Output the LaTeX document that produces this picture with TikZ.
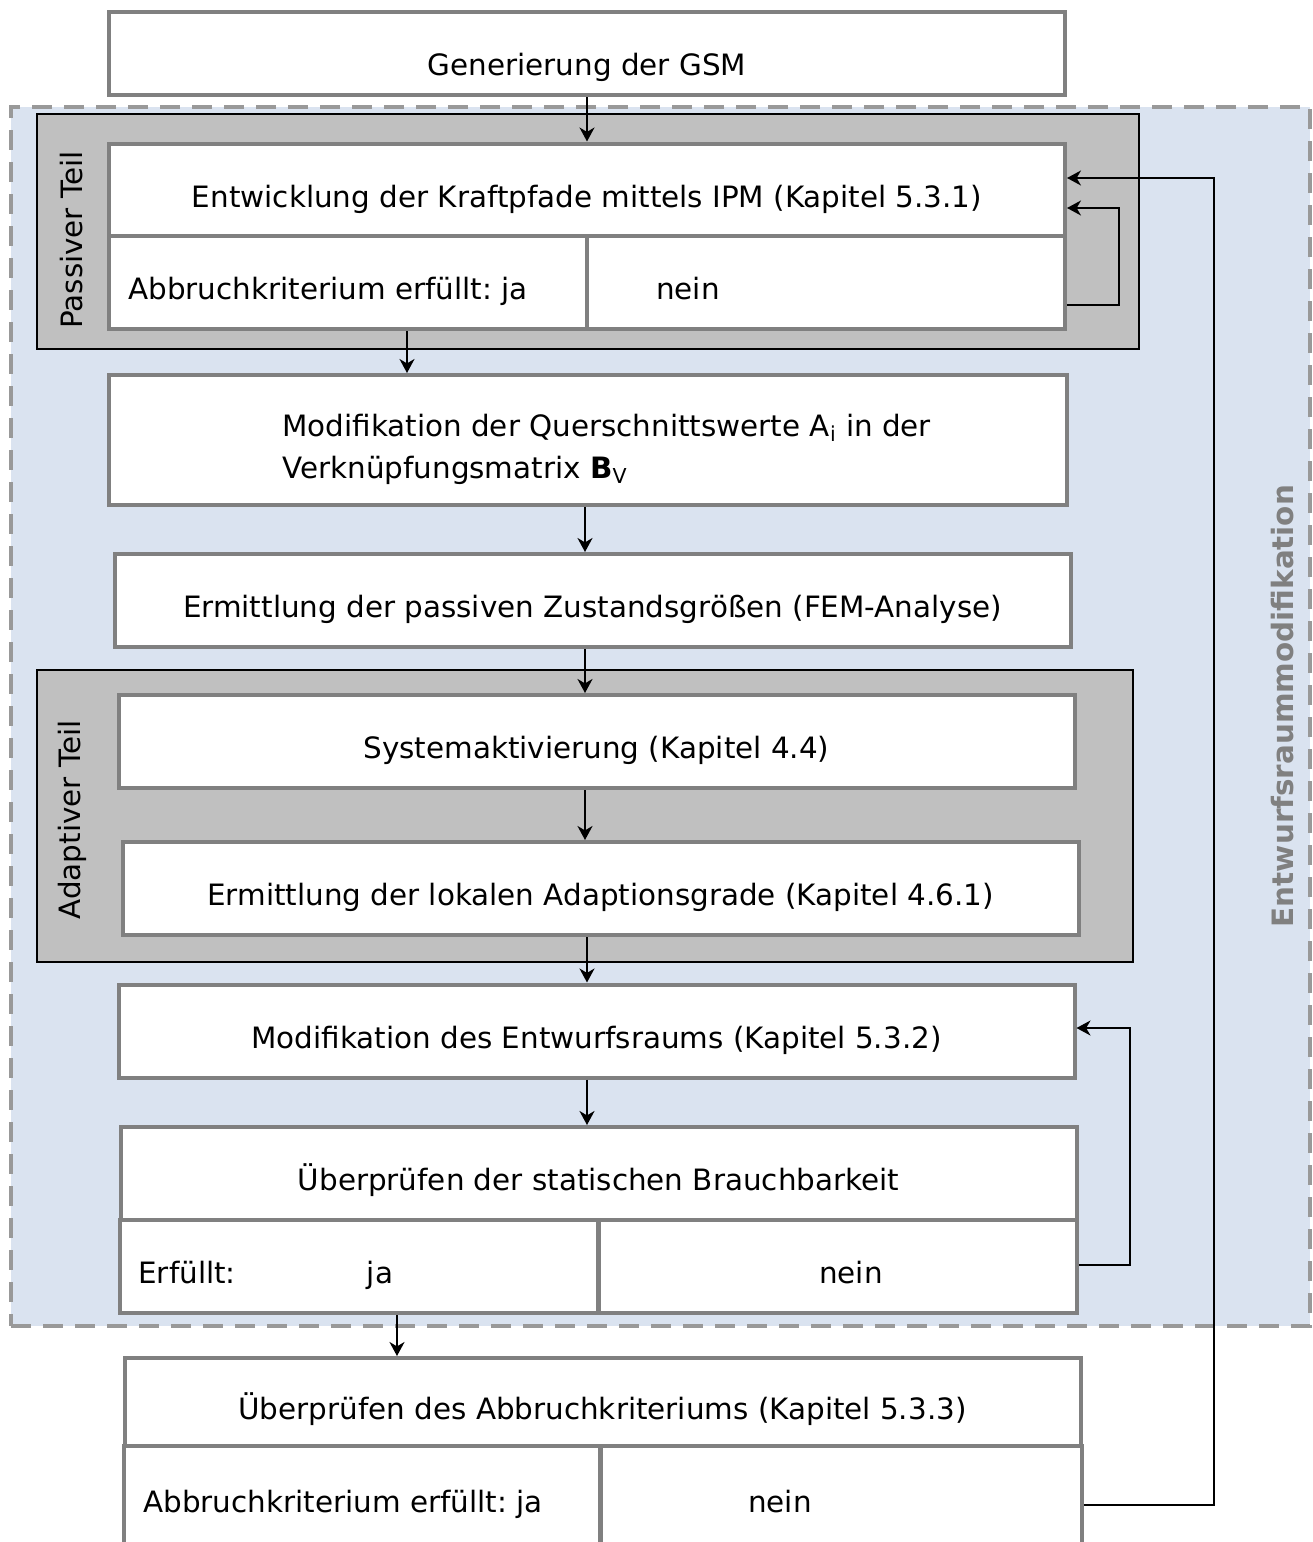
\documentclass[tikz,border=0pt]{standalone}
\usepackage{fontspec}
\setmainfont{DejaVu Sans}
\usepackage{tikz}
\usetikzlibrary{arrows.meta,calc}
\frenchspacing

\definecolor{boxgray}{HTML}{808080}
\definecolor{grpgray}{HTML}{C0C0C0}
\definecolor{raumblue}{HTML}{DAE3F0}
\definecolor{dashgray}{HTML}{999999}

\begin{document}
\begin{tikzpicture}[
		x=0.5pt, y=-0.5pt,
		every node/.style={font=\fontsize{14.7}{21}\selectfont, inner sep=0pt},
		stepbox/.style={rectangle, draw=boxgray, line width=2pt, fill=white, minimum width=478pt, minimum height=46.5pt, text height=17pt, text depth=0pt},
		cellbox/.style={stepbox, minimum width=239pt},
		celltext/.style={text height=17pt, text depth=0pt},
		grpbox/.style={rectangle, draw=black, line width=0.8pt, fill=grpgray},
		arr/.style={-{Stealth[length=7pt, width=7.5pt, inset=2.2pt]}, line width=1pt}
	]
  \useasboundingbox (0,0) rectangle (1312,1542);
  % Entwurfsraum
  \node (raum) [rectangle, draw=dashgray, fill=raumblue, line width=2pt, dash pattern=on 10pt off 6pt, minimum width=649.5pt, minimum height=609.5pt] at (660.5,716.5) {};
  \node (raum_label) [rotate=90, text=boxgray, font=\fontsize{14.7}{17}\selectfont\bfseries] at (1283,706) {Entwurfsraummodifikation};
  % Gruppen
  \node (passiv_grp) [grpbox, minimum width=551pt, minimum height=117.5pt] at (588,231.5) {};
  \node (passiv_label) [rotate=90] at (72,240) {Passiver Teil};
  \node (adapt_grp) [grpbox, minimum width=548pt, minimum height=146pt] at (585,816) {};
  \node (adapt_label) [rotate=90] at (72,820) {Adaptiver Teil};
  % Schritte
  \node (gsm) [stepbox, minimum height=41.5pt, text height=22pt] at (587,53.5) {Generierung der GSM};
  \node (entw) [stepbox] at (587,190) {Entwicklung der Kraftpfade mittels IPM (Kapitel 5.3.1)};
  \node (entw_ja) [cellbox] at (348,282.5) {};
  \node (entw_nein) [cellbox] at (826,282.5) {};
  \node [celltext, anchor=west] at ($(entw_ja.west)+(21,0)$) {Abbruchkriterium erfüllt: ja};
  \node [celltext] at (688,282.5) {nein};
  \node (quer) [stepbox, minimum width=479pt, minimum height=65pt] at (588,440) {};
  \node (quer_text) [anchor=west, align=left] at (282,449) {Modifikation der Querschnittswerte A\textsubscript{i} in der\\Verknüpfungsmatrix \textbf{B}\textsubscript{V}};
  \node (fem) [stepbox] at (592.5,600.5) {Ermittlung der passiven Zustandsgrößen (FEM-Analyse)};
  \node (sys) [stepbox] at (596.5,741.5) {Systemaktivierung (Kapitel 4.4)};
  \node (grade) [stepbox] at (600.5,888.5) {Ermittlung der lokalen Adaptionsgrade (Kapitel 4.6.1)};
  \node (raummod) [stepbox] at (596.5,1031) {Modifikation des Entwurfsraums (Kapitel 5.3.2)};
  \node (statik) [stepbox] at (598.5,1173.5) {Überprüfen der statischen Brauchbarkeit};
  \node (statik_ja) [cellbox] at (359,1266.5) {};
  \node (statik_nein) [cellbox] at (837.5,1266.5) {};
  \node [celltext, anchor=west] at ($(statik_ja.west)+(20,0)$) {Erfüllt:};
  \node [celltext] at (380,1266.5) {ja};
  \node [celltext] at (851,1266.5) {nein};
  \node (abbr) [stepbox, minimum height=44pt] at (602.5,1402) {Überprüfen des Abbruchkriteriums (Kapitel 5.3.3)};
  \node (abbr_ja) [cellbox, minimum width=238pt, minimum height=56pt] at (362,1502) {};
  \node (abbr_nein) [cellbox, minimum width=240.5pt, minimum height=56pt] at (841.5,1502) {};
  \node [celltext, anchor=west] at ($(abbr_ja.west)+(21,-7)$) {Abbruchkriterium erfüllt: ja};
  \node [celltext] at (780,1495) {nein};
  % Pfeile
  \draw[arr] (gsm) -- (entw);
  \draw[arr] ($(entw_ja.south)+(59,0)$) -- ($(quer.north)+(-181,0)$);
  \draw[arr] ($(quer.south)+(-3,0)$) -- ($(fem.north)+(-7.5,0)$);
  \draw[arr] ($(fem.south)+(-7.5,0)$) -- ($(sys.north)+(-11.5,0)$);
  \draw[arr] ($(sys.south)+(-11.5,0)$) -- ($(grade.north)+(-15.5,0)$);
  \draw[arr] ($(grade.south)+(-13.5,0)$) -- ($(raummod.north)+(-9.5,0)$);
  \draw[arr] ($(raummod.south)+(-9.5,0)$) -- ($(statik.north)+(-11.5,0)$);
  \draw[arr] ($(statik_ja.south)+(38,0)$) -- ($(abbr.north)+(-205.5,0)$);
  \draw[arr] ($(entw_nein.east)+(0,22.5)$) -- ++(52,0) |- ($(entw.east)+(0,18)$);
  \draw[arr] ($(statik_nein.east)+(0,-1.5)$) -- ++(51,0) |- ($(raummod.east)+(0,-3)$);
  \draw[arr] ($(abbr_nein.east)+(0,3)$) -- ++(130,0) |- ($(entw.east)+(0,-12)$);
\end{tikzpicture}
\end{document}
